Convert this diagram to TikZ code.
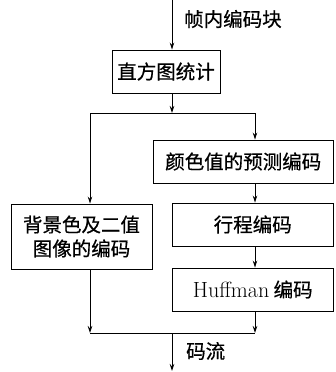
\documentclass[tikz,border=0pt]{standalone}
\usepackage{fontspec}
\newfontfamily\cjk[FakeBold=0.6]{Noto Sans CJK SC}
\usetikzlibrary{arrows.meta}
\begin{document}
\begin{tikzpicture}[x=1pt,y=1pt,
  box/.style={draw, line width=0.9pt, inner sep=0pt, font=\cjk\fontsize{19.5}{24}\selectfont, align=center},
  arr/.style={-{Stealth[length=7pt,width=4.5pt]}, line width=0.8pt},
  ln/.style={line width=0.8pt},
  lbl/.style={font=\cjk\fontsize{19.5}{24}\selectfont, anchor=west, inner sep=0pt}]
\useasboundingbox (0,0) rectangle (335,-372);
\node[box, minimum width=108pt, minimum height=43pt] (b1) at (166,-71.5) {直方图统计};
\node[box, minimum width=180.5pt, minimum height=43pt] (b2) at (243.25,-161.5) {颜色值的预测编码};
\node[box, minimum width=161.5pt, minimum height=43pt] (b3) at (252.75,-224.5) {行程编码};
\node[box, minimum width=161.5pt, minimum height=43pt] (b4) at (252.75,-289.5) {{\rmfamily\fontsize{22}{26}\selectfont Huffman} 编码};
\node[box, minimum width=141pt, minimum height=65pt] (bl) at (81.5,-236.5) {背景色及二值\\图像的编码};
\coordinate (top) at (172,0);
\coordinate (j1) at (172,-113);
\coordinate (jl) at (90,-113);
\coordinate (jr) at (255,-113);
\coordinate (kl) at (90,-333);
\coordinate (kr) at (255,-333);
\coordinate (km) at (172,-333);
\coordinate (end) at (172,-371);
\node[lbl] (in) at (184,-19) {帧内编码块};
\node[lbl] (out) at (186,-351) {码流};
\draw[arr] (top) -- (top |- b1.north);
\draw[arr] (b1.south -| j1) -- (j1);
\draw[ln] (jl) -- (jr);
\draw[arr] (jl) -- (jl |- bl.north);
\draw[arr] (jr) -- (jr |- b2.north);
\draw[arr] (b2.south -| jr) -- (b3.north -| jr);
\draw[arr] (b3.south -| jr) -- (b4.north -| jr);
\draw[arr] (b4.south -| kr) -- (kr);
\draw[arr] (bl.south -| kl) -- (kl);
\draw[ln] (kl) -- (kr);
\draw[arr] (km) -- (end);
\end{tikzpicture}
\end{document}
